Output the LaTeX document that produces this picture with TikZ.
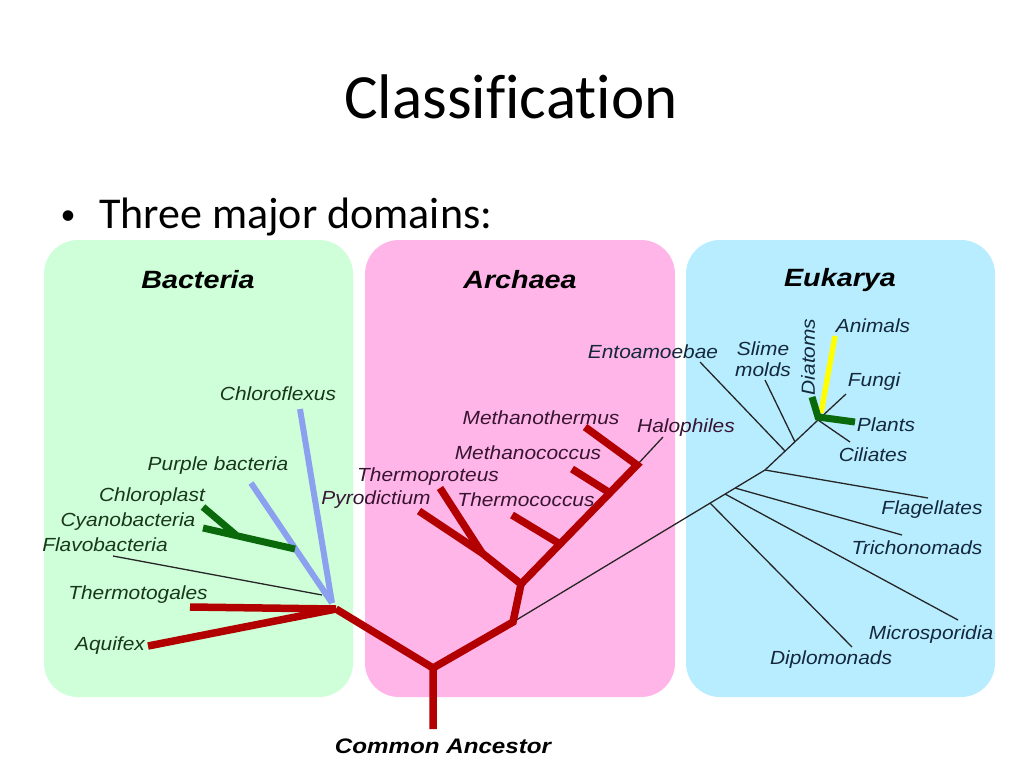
\documentclass[tikz,border=0pt]{standalone}
\usepackage{fontspec}
\setmainfont{Carlito}[Ligatures=NoCommon]
\newfontfamily\labf[FakeStretch=1.1]{Liberation Sans}
\newfontfamily\headf[FakeStretch=1.15]{Liberation Sans}
\definecolor{bacbg}{RGB}{206,255,216}
\definecolor{arcbg}{RGB}{255,181,232}
\definecolor{eukbg}{RGB}{184,237,255}
\definecolor{treered}{RGB}{178,0,0}
\definecolor{treeblue}{RGB}{140,160,240}
\definecolor{treegreen}{RGB}{10,105,10}
\definecolor{treeyellow}{RGB}{255,255,0}
\definecolor{bactxt}{RGB}{25,55,25}
\definecolor{arctxt}{RGB}{55,20,50}
\definecolor{euktxt}{RGB}{20,40,60}
\tikzset{
  domainbox/.style={rounded corners=34pt, draw=none},
  headlab/.style={font=\headf\bfseries\itshape\fontsize{25}{27}\selectfont, inner sep=0pt},
  leaflab/.style={font=\labf\itshape\fontsize{19}{21}\selectfont, inner sep=0pt},
  redbr/.style={draw=treered, line width=7.5pt, line cap=butt, line join=miter},
  bluebr/.style={draw=treeblue, line width=6pt},
  greenbr/.style={draw=treegreen, line width=7pt, line join=miter},
  yellowbr/.style={draw=treeyellow, line width=5.5pt},
  thinbr/.style={draw=black!85, line width=1.3pt},
}
\begin{document}
\begin{tikzpicture}[x=1pt,y=-1pt]
\useasboundingbox (0,0) rectangle (1024,768);
\fill[white] (0,0) rectangle (1024,768);
% title
\node[anchor=base, inner sep=0pt, font=\fontsize{63}{70}\selectfont] (title) at (511,118) {Classification};
\node[anchor=base, inner sep=0pt, font=\fontsize{30}{34}\selectfont] (bullet) at (68,224) {\textbullet};
\node[anchor=base west, inner sep=0pt, font=\fontsize{44}{50}\selectfont] (sub) at (99,228) {Three major domains:};
% domain boxes
\fill[domainbox, bacbg] (44,240) rectangle (353,697);
\fill[domainbox, arcbg] (365,240) rectangle (675,697);
\fill[domainbox, eukbg] (686,240) rectangle (995,697);
\node[headlab] (hb) at (198,280) {Bacteria};
\node[headlab] (ha) at (520,280) {Archaea};
\node[headlab] (he) at (840,280) {Eukarya};
% coordinates
\coordinate (root) at (433,729);
\coordinate (r0) at (433,668);
\coordinate (b0) at (336,609);
\coordinate (bb) at (332,603);
\coordinate (tThermo) at (190,607);
\coordinate (tAqui) at (148,646);
\coordinate (tChlf) at (300,409);
\coordinate (tPurp) at (251,483);
\coordinate (gj) at (295,549);
\coordinate (gj2) at (236,535);
\coordinate (tCyano) at (203,528);
\coordinate (tChlp) at (203,507);
\coordinate (tFlavo) at (113,556);
\coordinate (eFlavo) at (322,595);
\coordinate (a0) at (513,622);
\coordinate (a1) at (521,584);
\coordinate (aL) at (482,553);
\coordinate (tPyro) at (419,511);
\coordinate (tTprot) at (440,488);
\coordinate (aR) at (637,465);
\coordinate (tTcoc) at (512,515);
\coordinate (bTcoc) at (560,544);
\coordinate (tMcoc) at (572,469);
\coordinate (bMcoc) at (610,493);
\coordinate (tMth) at (585,427);
\coordinate (tHalo) at (663,437);
\coordinate (e1) at (765,470);
\coordinate (eD) at (710,503);
\coordinate (eM) at (725,494);
\coordinate (eT) at (735,488);
\coordinate (tDipl) at (852,647);
\coordinate (tMicro) at (958,620);
\coordinate (tTrich) at (902,535);
\coordinate (tFlag) at (928,498);
\coordinate (eEnt) at (785,451);
\coordinate (eSl) at (795,442);
\coordinate (tEnt) at (700,362);
\coordinate (tSl) at (765,380);
\coordinate (e4) at (818,420);
\coordinate (tCil) at (850,442);
\coordinate (tFun) at (846,394);
\coordinate (tDia) at (812,397);
\coordinate (gE) at (818,417);
\coordinate (tPla) at (855,422);
\coordinate (tAni) at (835,336);
\coordinate (bAni) at (821,413);
% thin branches
\draw[thinbr] (tFlavo) -- (eFlavo);
\draw[thinbr] (aR) -- (tHalo);
\draw[thinbr] (a0) -- (e1) -- (e4);
\draw[thinbr] (eD) -- (tDipl);
\draw[thinbr] (eM) -- (tMicro);
\draw[thinbr] (eT) -- (tTrich);
\draw[thinbr] (e1) -- (tFlag);
\draw[thinbr] (eEnt) -- (tEnt);
\draw[thinbr] (eSl) -- (tSl);
\draw[thinbr] (e4) -- (tCil);
\draw[thinbr] (e4) -- (tFun);
% bacteria colored branches
\draw[bluebr] (bb) -- (tChlf);
\draw[bluebr] (bb) -- (tPurp);
\draw[greenbr] (tCyano) -- (gj);
\draw[greenbr] (tChlp) -- (gj2);
% red branches
\draw[redbr] (root) -- (r0) -- (b0);
\draw[redbr] (tThermo) -- (b0);
\draw[redbr] (tAqui) -- (b0);
\draw[redbr] (r0) -- (a0) -- (a1) -- (aL) -- (tPyro);
\draw[redbr] (aL) -- (tTprot);
\draw[redbr] (a1) -- (aR) -- (tMth);
\draw[redbr] (tTcoc) -- (bTcoc);
\draw[redbr] (tMcoc) -- (bMcoc);
% eukarya colored branches
\draw[yellowbr] (tAni) -- (bAni);
\draw[greenbr] (tDia) -- (gE) -- (tPla);
% bacteria labels
\begin{scope}[every node/.style={leaflab, text=bactxt}]
\node (lChlf) at (278,394) {Chloroflexus};
\node (lPurp) at (218,466) {Purple bacteria};
\node (lChlp) at (152,497) {Chloroplast};
\node (lCyano) at (128,522) {Cyanobacteria};
\node (lFlavo) at (105,545) {Flavobacteria};
\node (lThermo) at (138,595) {Thermotogales};
\node (lAqui) at (110,646) {Aquifex};
\end{scope}
% archaea labels
\begin{scope}[every node/.style={leaflab, text=arctxt}]
\node (lMth) at (541,418) {Methanothermus};
\node (lMcoc) at (528,453) {Methanococcus};
\node (lTprot) at (428,477) {Thermoproteus};
\node (lPyro) at (376,500) {Pyrodictium};
\node (lTcoc) at (526,500) {Thermococcus};
\node (lHalo) at (686,428) {Halophiles};
\end{scope}
% eukarya labels
\begin{scope}[every node/.style={leaflab, text=euktxt}]
\node (lEnt) at (653,352) {Entoamoebae};
\node[align=center, font=\labf\itshape\fontsize{19}{21}\selectfont] (lSl) at (763,359) {Slime\\molds};
\node[rotate=90] (lDia) at (808,357) {Diatoms};
\node (lAni) at (873,326) {Animals};
\node (lFun) at (874,382) {Fungi};
\node (lPla) at (886,425) {Plants};
\node (lCil) at (873,455) {Ciliates};
\node (lFlag) at (932,510) {Flagellates};
\node (lTrich) at (917,548) {Trichonomads};
\node (lMicro) at (931,635) {Microsporidia};
\node (lDipl) at (831,660) {Diplomonads};
\end{scope}
\node[inner sep=0pt, font=\headf\bfseries\itshape\fontsize{21}{23}\selectfont] (ca) at (443,746) {Common Ancestor};
\end{tikzpicture}
\end{document}
